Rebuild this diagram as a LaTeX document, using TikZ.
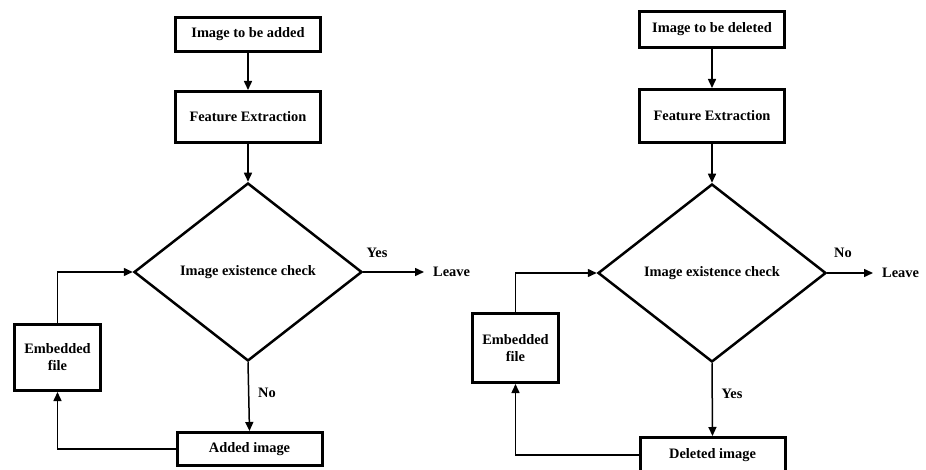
\documentclass[tikz,border=0pt]{standalone}
\usepackage{fontspec}
\setmainfont{Liberation Serif}
\usetikzlibrary{shapes.geometric,arrows.meta}

\begin{document}
\begin{tikzpicture}[
    x=1pt, y=-1pt,
    >={Triangle[length=9pt,width=8pt]},
    every node/.style={font=\fontsize{14.4}{17}\selectfont\bfseries},
    stage/.style={draw=black, line width=3pt, minimum width=145pt, inner sep=2pt},
    check/.style={diamond, draw=black, line width=2.5pt,
      minimum width=228pt, minimum height=178pt, inner sep=0pt},
    store/.style={draw=black, line width=3pt, minimum width=86pt,
      align=center, inner sep=2pt},
    flow/.style={->, line width=1.5pt, draw=black},
    answer/.style={inner sep=0pt},
  ]
    \useasboundingbox (0,0) rectangle (926,470);

    % adding an image
    \node[stage, minimum height=34pt] (addin) at (248,34.5) {Image to be added};
    \node[stage, minimum height=51pt] (addfeat) at (248,117) {Feature Extraction};
    \node[check] (addchk) at (248,272) {Image existence check};
    \node[stage, minimum height=33pt] (addout) at (249.5,449) {Added image};
    \node[store, minimum height=66pt] (addemb) at (57.5,357.5) {Embedded\\file};
    \node[answer] (addyes) at (377,253) {Yes};
    \node[answer] (addno) at (267,393) {No};
    \node[answer, anchor=west, inner xsep=9pt] (addleave) at (424,272) {Leave};

    \draw[flow] (addin) -- (addfeat);
    \draw[flow] (addfeat) -- (addchk.north);
    \draw[flow] (addchk.east) -- (addleave.west);
    \draw[flow] (addchk.south) -- (addout.north);
    \draw[flow] (addout.west) -| (addemb.south);
    \draw[flow] (addemb.north) |- (addchk.west);

    % deleting an image
    \node[stage, minimum height=36pt] (delin) at (712,29.5) {Image to be deleted};
    \node[stage, minimum height=53pt] (delfeat) at (712,116) {Feature Extraction};
    \node[check] (delchk) at (712,273) {Image existence check};
    \node[stage, minimum height=35pt] (delout) at (712.5,455) {Deleted image};
    \node[store, minimum height=69pt] (delemb) at (515.5,348) {Embedded\\file};
    \node[answer] (delno) at (843,253) {No};
    \node[answer] (delyes) at (732,394) {Yes};
    \node[answer, anchor=west, inner xsep=9pt] (delleave) at (873,273) {Leave};

    \draw[flow] (delin) -- (delfeat);
    \draw[flow] (delfeat) -- (delchk.north);
    \draw[flow] (delchk.east) -- (delleave.west);
    \draw[flow] (delchk.south) -- (delout.north);
    \draw[flow] (delout.west) -| (delemb.south);
    \draw[flow] (delemb.north) |- (delchk.west);
  \end{tikzpicture}
\end{document}
